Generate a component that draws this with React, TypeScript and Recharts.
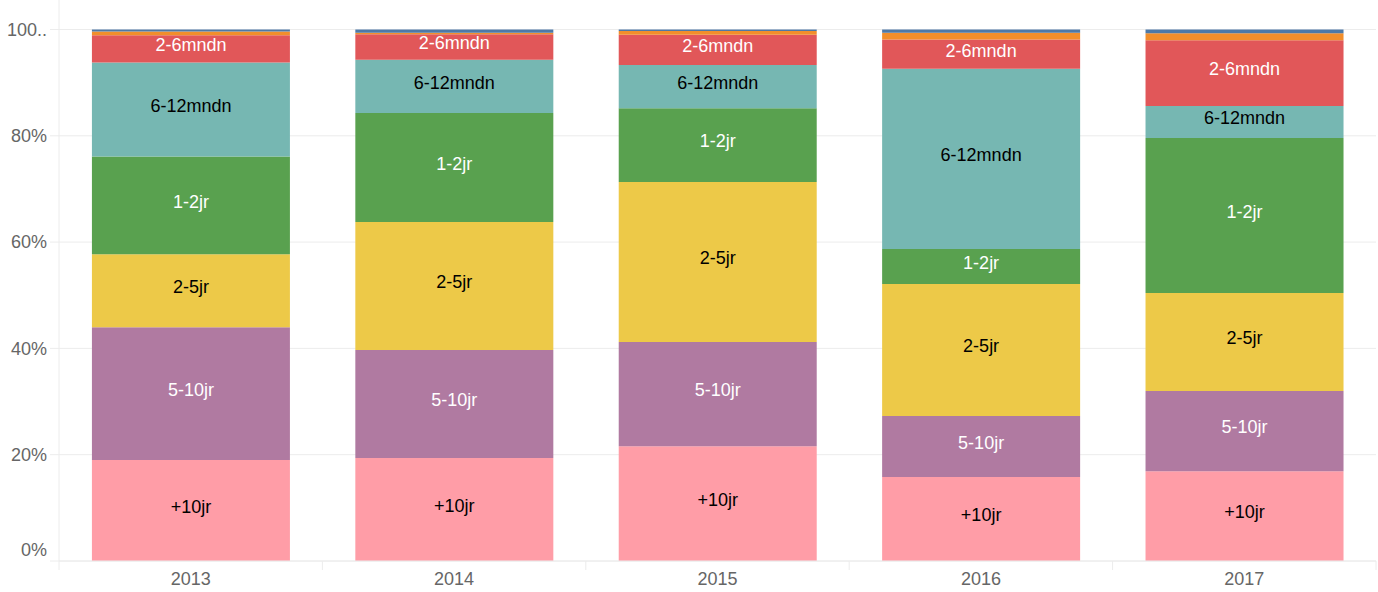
import { BarChart, Bar, XAxis, YAxis, CartesianGrid, LabelList } from 'recharts'

const years = ['2013', '2014', '2015', '2016', '2017']
const plus10jr = [19.0, 19.4, 21.6, 15.8, 16.9]
const jr5to10 = [25.0, 20.3, 19.6, 11.5, 15.1]
const jr2to5 = [13.7, 24.1, 30.1, 24.8, 18.4]
const jr1to2 = [18.4, 20.5, 13.9, 6.6, 29.2]
const mndn6to12 = [17.7, 10.0, 8.1, 33.9, 6.0]
const mndn2to6 = [5.1, 4.8, 5.7, 5.5, 12.4]
const mndn1to2 = [0.7, 0.3, 0.7, 1.3, 1.3]
const mnd0to1 = [0.4, 0.6, 0.3, 0.6, 0.7]
const yTicks = [0, 20, 40, 60, 80, 100]

const series = [
  { key: '+10jr', values: plus10jr, color: '#FF9DA7', text: '#000', label: true },
  { key: '5-10jr', values: jr5to10, color: '#B07AA1', text: '#fff', label: true },
  { key: '2-5jr', values: jr2to5, color: '#EDC948', text: '#000', label: true },
  { key: '1-2jr', values: jr1to2, color: '#59A14F', text: '#fff', label: true },
  { key: '6-12mndn', values: mndn6to12, color: '#76B7B2', text: '#000', label: true },
  { key: '2-6mndn', values: mndn2to6, color: '#E15759', text: '#fff', label: true },
  { key: '1-2mndn', values: mndn1to2, color: '#F28E2B', text: '#000', label: false },
  { key: '0-1mnd', values: mnd0to1, color: '#4E79A7', text: '#fff', label: false },
]

const data = years.map((year, i) => {
  const row: Record<string, any> = { year }
  series.forEach(s => { row[s.key] = s.values[i] })
  return row
})

const font = '"Liberation Sans", Arial, sans-serif'
const gridColor = '#ececec'

// category tick with tick marks at the band edges instead of the centre
function YearTick(props: any) {
  const { x, y, payload, index, visibleTicksCount } = props
  const half = payload.offset || 0
  const last = index === visibleTicksCount - 1
  const top = y - 14
  return (
    <g>
      <line x1={x - half} x2={x - half} y1={top} y2={top + 9} stroke={gridColor} />
      {last && <line x1={x + half} x2={x + half} y1={top} y2={top + 9} stroke={gridColor} />}
      <text x={x} y={y + 10} textAnchor="middle" fill="#666" fontSize={18} fontFamily={font}>
        {payload.value}
      </text>
    </g>
  )
}

// the bottom label sits a bit above its gridline, the top one is cut short
function PercentTick(props: any) {
  const { x, y, payload } = props
  const v = payload.value
  const shift = v === 0 ? -11 : 0
  return (
    <text x={x} y={y + shift} dy="0.355em" textAnchor="end" fill="#666" fontSize={18} fontFamily={font}>
      {v === 100 ? '100..' : `${v}%`}
    </text>
  )
}

function segmentLabel(name: string, color: string) {
  return (p: any) => {
    const cx = Number(p.x) + Number(p.width) / 2
    const cy = Number(p.y) + Number(p.height) / 2 - 4
    return (
      <text x={cx} y={cy} dy="0.355em" textAnchor="middle" fill={color} fontSize={18} fontFamily={font}>
        {name}
      </text>
    )
  }
}

export default function App() {
  return (
    <div style={{ position: 'absolute', left: 0, top: 0, fontFamily: font }}>
      <BarChart
        width={1378}
        height={592}
        data={data}
        margin={{ top: 0, right: 2, bottom: 0, left: 0 }}
        barCategoryGap="12.5%"
      >
        <CartesianGrid vertical={false} stroke={gridColor} horizontalValues={yTicks} />
        <XAxis
          dataKey="year"
          height={31}
          tickLine={false}
          axisLine={{ stroke: gridColor }}
          tick={<YearTick />}
          tickMargin={8}
        />
        <YAxis
          width={59}
          type="number"
          domain={[0, 105.55]}
          ticks={yTicks}
          allowDataOverflow
          axisLine={{ stroke: gridColor }}
          tickLine={{ stroke: gridColor }}
          tickSize={9}
          tickMargin={3}
          tick={<PercentTick />}
        />
        {series.map(s => (
          <Bar key={s.key} dataKey={s.key} stackId="a" fill={s.color} isAnimationActive={false}>
            {s.label && <LabelList dataKey={s.key} content={segmentLabel(s.key, s.text)} />}
          </Bar>
        ))}
      </BarChart>
    </div>
  )
}
